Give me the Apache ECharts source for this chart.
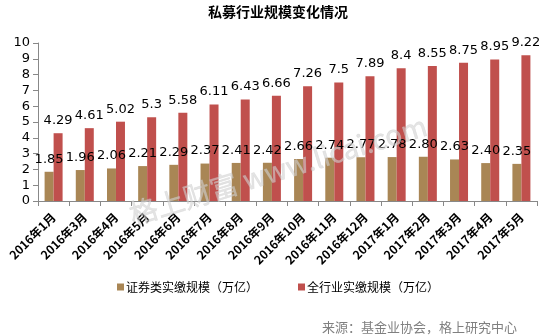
<!DOCTYPE html>
<html>
<head>
<meta charset="utf-8">
<script src="https://cdn.jsdelivr.net/npm/echarts@6/dist/echarts.min.js"></script>
<style>html,body{margin:0;padding:0;background:#fff;}#c{width:556px;height:335px;}</style>
</head>
<body>
<div id="c"></div>
<script>
const titleText = '私募行业规模变化情况';
const categories = ['2016年1月','2016年3月','2016年4月','2016年5月','2016年6月','2016年7月','2016年8月','2016年9月','2016年10月','2016年11月','2016年12月','2017年1月','2017年2月','2017年3月','2017年4月','2017年5月'];
const seriesNames = ['证券类实缴规模（万亿）','全行业实缴规模（万亿）'];
const securitiesValues = [1.85,1.96,2.06,2.21,2.29,2.37,2.41,2.42,2.66,2.74,2.77,2.78,2.80,2.63,2.40,2.35];
const industryValues = [4.29,4.61,5.02,5.3,5.58,6.11,6.43,6.66,7.26,7.5,7.89,8.4,8.55,8.75,8.95,9.22];
const yTicks = [0,1,2,3,4,5,6,7,8,9,10];
const sourceText = '来源：基金业协会，格上研究中心';
const watermarkText = '格上财富 www.licai.com';

const font = '"DejaVu Sans", Verdana, "Noto Sans CJK SC", sans-serif';
const cjk = '"Noto Sans CJK SC", sans-serif';
const chart = echarts.init(document.getElementById('c'));
chart.setOption({
  animation: false,
  backgroundColor: '#fff',
  title: {
    text: titleText, left: 'center', top: 0,
    textStyle: {fontFamily: cjk, fontSize: 14, fontWeight: 'bold', color: '#000'}
  },
  legend: {
    data: seriesNames, bottom: 37, left: 'center', itemGap: 40,
    itemWidth: 7, itemHeight: 7, icon: 'rect',
    textStyle: {fontFamily: cjk, fontSize: 12, color: '#000', padding: [0,0,0,-3]}
  },
  grid: {left: 38, right: 19, top: 43, bottom: 134},
  xAxis: {
    type: 'category', data: categories,
    axisLine: {lineStyle: {color: '#888'}},
    axisTick: {show: true, length: 5, lineStyle: {color: '#888'}},
    axisLabel: {rotate: 45, interval: 0, margin: 14, fontFamily: cjk, fontSize: 12, fontWeight: 'bold', color: '#000'}
  },
  yAxis: {
    type: 'value', min: yTicks[0], max: yTicks[yTicks.length-1], interval: 1,
    axisLine: {show: true, lineStyle: {color: '#888'}},
    axisTick: {show: true, length: 5, lineStyle: {color: '#888'}},
    splitLine: {show: false},
    axisLabel: {fontFamily: font, fontSize: 13, color: '#000', margin: 8}
  },
  series: [
    {
      name: seriesNames[0], type: 'bar', data: securitiesValues,
      barWidth: 9, barGap: '0%',
      itemStyle: {color: '#A98655'},
      label: {show: true, position: 'top', distance: 6, fontFamily: font, fontSize: 13, color: '#000',
        formatter: p => p.value.toFixed(2)}
    },
    {
      name: seriesNames[1], type: 'bar', data: industryValues,
      barWidth: 9, barGap: '0%',
      itemStyle: {color: '#C0504D'},
      label: {show: true, position: 'top', distance: 6, fontFamily: font, fontSize: 13, color: '#000'}
    }
  ],
  graphic: [
    {
      type: 'text', right: 39, bottom: 1,
      style: {text: sourceText, fontFamily: cjk, fontSize: 13, fill: '#808080'}
    },
    {
      type: 'text', x: 278, y: 170, rotation: 17 * Math.PI / 180, z: 100,
      style: {text: watermarkText, fontFamily: cjk, fontSize: 28, fill: 'rgba(210,210,210,0.6)', stroke: 'rgba(185,185,185,0.35)', lineWidth: 0.6, align: 'center', verticalAlign: 'middle'}
    }
  ]
});
</script>
</body>
</html>
